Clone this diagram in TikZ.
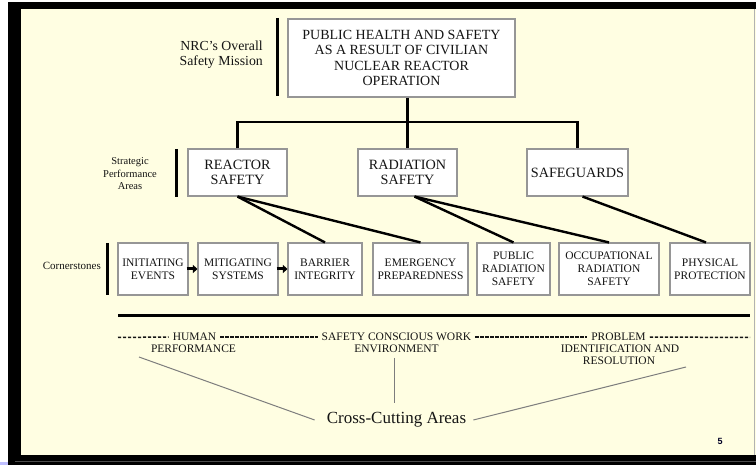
\documentclass[tikz,border=0pt]{standalone}
\usepackage{fontspec}
\setmainfont{Liberation Serif}
\newfontfamily\numfont{Liberation Sans}
\usetikzlibrary{arrows.meta}
\definecolor{bgyellow}{RGB}{255,254,226}
\definecolor{boxline}{RGB}{150,150,150}
\definecolor{crossgray}{RGB}{125,125,125}
\definecolor{txt}{RGB}{20,20,20}
\tikzset{
  box/.style={draw=boxline, line width=1.1pt, fill=white, inner sep=0pt, align=center, text=txt},
  bigtxt/.style={font=\fontsize{14}{15.3}\selectfont},
  midtxt/.style={font=\fontsize{14.2}{15}\selectfont},
  smalltxt/.style={font=\fontsize{11.5}{13}\selectfont},
  rowtxt/.style={font=\fontsize{11.5}{12}\selectfont, text=txt, inner sep=0pt},
  conn/.style={draw=black, line width=2.4pt},
  sidebar/.style={draw=black, line width=3pt},
  crossline/.style={draw=crossgray, line width=1pt},
  dashline/.style={draw=txt, line width=1.5pt, dash pattern=on 3.2pt off 1.8pt},
  chainarrow/.style={draw=black, line width=3pt, -{Triangle[length=4.5pt,width=8pt]}},
}
\begin{document}
\begin{tikzpicture}[x=1pt, y=-1pt]
\useasboundingbox (0,0) rectangle (756,465);
% frame
\fill[white] (0,0) rectangle (756,465);
\fill[black] (8,2) rectangle (756,465);
\fill[bgyellow] (21,9) rectangle (756,455);
\draw[gray!60, line width=1pt] (754.5,9) -- (754.5,455);
\draw[gray!60!black, line width=0.8pt] (15,461.5) -- (756,461.5);
\fill[blue!25] (0,462) rectangle (8,465);

% mission
\node[box, bigtxt, minimum width=227pt, minimum height=78pt] (mission) at (401.5,58)
  {PUBLIC HEALTH AND SAFETY\\AS A RESULT OF CIVILIAN\\NUCLEAR REACTOR\\OPERATION};
\node[anchor=east, align=right, text=txt, inner sep=0pt, font=\fontsize{13.8}{15}\selectfont] (nrclab) at (263,55)
  {NRC’s Overall\\Safety Mission};
\draw[sidebar] (277,18) -- (277,96);

% strategic performance areas
\node[box, midtxt, minimum width=99pt, minimum height=47pt] (react) at (237.5,172.5) {REACTOR\\SAFETY};
\node[box, midtxt, minimum width=99pt, minimum height=47pt] (rad) at (407.5,172.5) {RADIATION\\SAFETY};
\node[box, midtxt, minimum width=101pt, minimum height=47pt] (safeg) at (577.5,172.5) {SAFEGUARDS};
\node[align=center, text=txt, inner sep=0pt, font=\fontsize{10.5}{12.5}\selectfont] (spalab) at (130,174)
  {Strategic\\Performance\\Areas};
\draw[sidebar] (176,149) -- (176,197);

% cornerstones
\node[box, smalltxt, minimum width=70pt, minimum height=52pt] (init) at (153,269) {INITIATING\\EVENTS};
\node[box, smalltxt, minimum width=80pt, minimum height=52pt] (mitig) at (238,269) {MITIGATING\\SYSTEMS};
\node[box, smalltxt, minimum width=74pt, minimum height=52pt] (barrier) at (325,269) {BARRIER\\INTEGRITY};
\node[box, smalltxt, minimum width=95pt, minimum height=52pt] (emerg) at (420.5,269) {EMERGENCY\\PREPAREDNESS};
\node[box, smalltxt, minimum width=73pt, minimum height=52pt] (public) at (513.5,269) {PUBLIC\\RADIATION\\SAFETY};
\node[box, smalltxt, minimum width=100pt, minimum height=52pt] (occup) at (609,269) {OCCUPATIONAL\\RADIATION\\SAFETY};
\node[box, smalltxt, minimum width=80pt, minimum height=52pt] (phys) at (710,269) {PHYSICAL\\PROTECTION};
\node[anchor=east, text=txt, inner sep=0pt, font=\fontsize{11}{12}\selectfont] (cornlab) at (101,266) {Cornerstones};
\draw[sidebar] (107,243) -- (107,295);

% connectors
\coordinate (bus) at (407.5,122);
\draw[conn] (rad.north |- mission.south) -- (rad.north);
\draw[conn] (react.north) |- (bus) -| (safeg.north);
\draw[conn] (react.south) -- (barrier.north);
\draw[conn] (react.south) -- (emerg.north);
\draw[conn] ([xshift=7pt]rad.south) -- (public.north);
\draw[conn] ([xshift=7pt]rad.south) -- (occup.north);
\draw[conn] ([xshift=5pt]safeg.south) -- ([xshift=-4pt]phys.north);
\draw[chainarrow] ([xshift=-2pt]init.east) -- (mitig.west);
\draw[chainarrow] ([xshift=-2pt]mitig.east) -- (barrier.west);

% separator
\coordinate (sepL) at (118,316);
\coordinate (sepR) at (750,316);
\draw[sidebar] (sepL) -- (sepR);

% cross-cutting row
\node[rowtxt, inner xsep=4pt] (human) at (194.5,337) {HUMAN};
\node[rowtxt] (perf) at (193.5,348.5) {PERFORMANCE};
\node[rowtxt, inner xsep=4pt] (scwe) at (396.5,337) {SAFETY CONSCIOUS WORK};
\node[rowtxt] (env) at (396.5,348.5) {ENVIRONMENT};
\node[rowtxt, inner xsep=4pt] (prob) at (618.5,337) {PROBLEM};
\node[rowtxt] (ident) at (620,348.5) {IDENTIFICATION AND};
\node[rowtxt] (resol) at (619,360.5) {RESOLUTION};
\coordinate (dashL) at (118,337.5);
\coordinate (dashR) at (750,337.5);
\draw[dashline] (dashL) -- (human.west);
\draw[dashline] (human.east) -- (scwe.west);
\draw[dashline] (scwe.east) -- (prob.west);
\draw[dashline] (prob.east) -- (dashR);

\node[text=txt, inner sep=0pt, font=\fontsize{17}{19}\selectfont] (cca) at (396.5,420) {Cross-Cutting Areas};
\coordinate (cl) at (139,357);
\coordinate (cm) at (394,358);
\coordinate (cr) at (686,367);
\draw[crossline] (cl) -- ([xshift=-12pt]cca.west);
\draw[crossline] (cm) -- (cm |- 0,403);
\draw[crossline] ([xshift=7pt]cca.east) -- (cr);

\node[text=black!85!blue, inner sep=0pt, font=\numfont\bfseries\fontsize{9}{10}\selectfont] (pgnum) at (720,441) {5};
\end{tikzpicture}
\end{document}
